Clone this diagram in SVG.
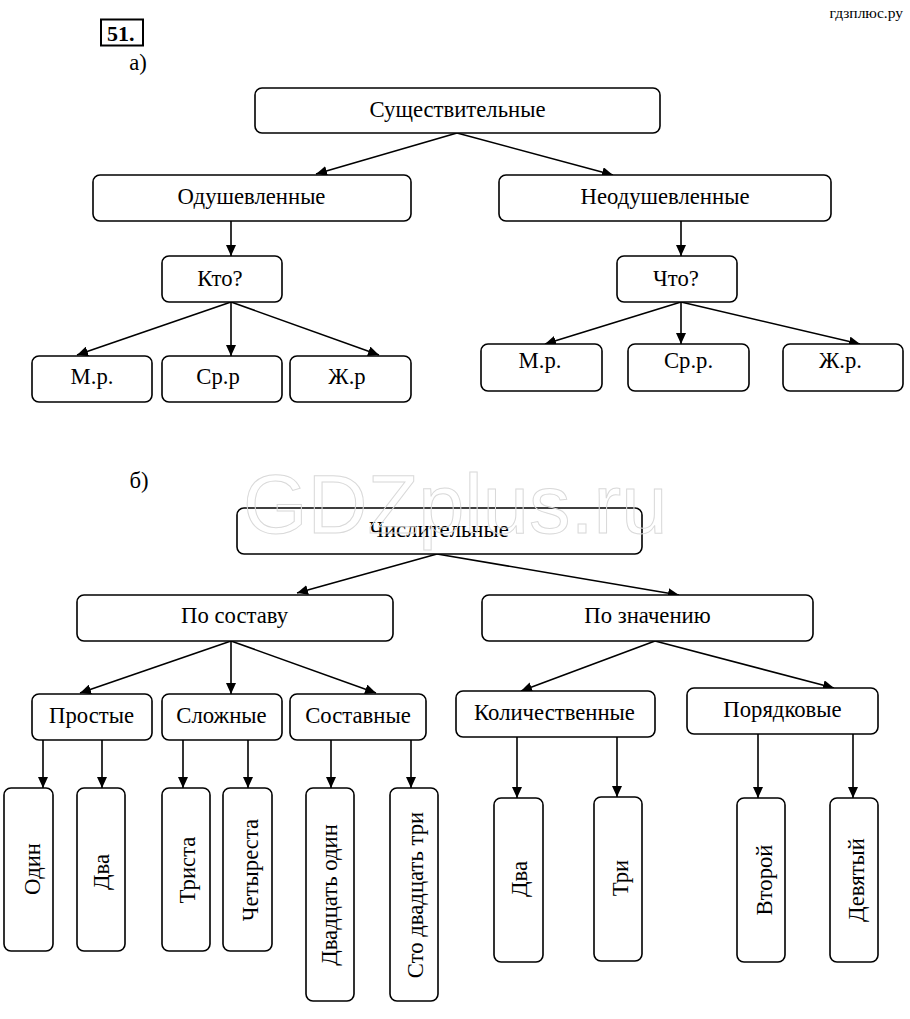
<svg xmlns="http://www.w3.org/2000/svg" width="910" height="1019" viewBox="0 0 910 1019" font-family="Liberation Serif, Times New Roman, DejaVu Serif, serif">
<defs>
<marker id="ah" markerUnits="userSpaceOnUse" markerWidth="12" markerHeight="10" refX="11" refY="5" orient="auto">
<path d="M0,0 L11,5 L0,10 z" fill="#000"/>
</marker>
<style>
.n rect{fill:#fff;stroke:#000;stroke-width:1.6}
.n text{font-size:22.7px;fill:#000;text-anchor:middle}
.t{font-size:22.7px;fill:#000;text-anchor:middle}
.c line{stroke:#000;stroke-width:1.6;marker-end:url(#ah)}
</style>
</defs>
<rect width="910" height="1019" fill="#fff"/>
<text x="903" y="18" font-size="15.5" text-anchor="end">гдзплюс.ру</text>
<g id="num">
<rect x="101" y="19.5" width="42" height="26" fill="none" stroke="#000" stroke-width="2"/>
<text x="107" y="40.5" font-size="22" font-weight="bold">51.</text>
</g>
<text class="t" x="138" y="70">а)</text>
<text class="t" x="139" y="488">б)</text>

<g class="c" id="connectors">
<line x1="457" y1="133" x2="316" y2="174"/>
<line x1="457" y1="133" x2="613" y2="175"/>
<line x1="231" y1="221" x2="231" y2="256"/>
<line x1="231" y1="302" x2="77" y2="355"/>
<line x1="231" y1="302" x2="231" y2="356"/>
<line x1="231" y1="302" x2="379" y2="355"/>
<line x1="681" y1="221" x2="681" y2="256"/>
<line x1="681" y1="302" x2="545" y2="344"/>
<line x1="681" y1="302" x2="681" y2="344"/>
<line x1="681" y1="302" x2="860" y2="344"/>

<line x1="437" y1="554" x2="297" y2="593"/>
<line x1="437" y1="554" x2="679" y2="595"/>
<line x1="231" y1="641" x2="80" y2="693"/>
<line x1="231" y1="641" x2="231" y2="694"/>
<line x1="231" y1="641" x2="376" y2="693"/>
<line x1="655" y1="641" x2="521" y2="691"/>
<line x1="655" y1="641" x2="834" y2="688"/>

<line x1="43" y1="740" x2="43" y2="788"/>
<line x1="102" y1="740" x2="102" y2="788"/>
<line x1="183" y1="740" x2="183" y2="788"/>
<line x1="248" y1="740" x2="248" y2="788"/>
<line x1="331" y1="740" x2="331" y2="788"/>
<line x1="411" y1="740" x2="411" y2="788"/>
<line x1="517" y1="737" x2="517" y2="798"/>
<line x1="617" y1="737" x2="617" y2="797"/>
<line x1="758" y1="734" x2="758" y2="798"/>
<line x1="853" y1="734" x2="853" y2="798"/>
</g>

<g class="n" id="n-sush"><rect x="255" y="88" width="405" height="45" rx="7"/><text x="457.5" y="117">Существительные</text></g>
<g class="n" id="n-odush"><rect x="93" y="175" width="318" height="46" rx="7"/><text x="251.5" y="204">Одушевленные</text></g>
<g class="n" id="n-neodush"><rect x="499" y="175" width="332" height="46" rx="7"/><text x="665" y="204">Неодушевленные</text></g>
<g class="n" id="n-kto"><rect x="162" y="256" width="120" height="46" rx="7"/><text x="220" y="286">Кто?</text></g>
<g class="n" id="n-chto"><rect x="617" y="256" width="120" height="46" rx="7"/><text x="676" y="286">Что?</text></g>
<g class="n" id="n-mr1"><rect x="32" y="356" width="120" height="46" rx="7"/><text x="92" y="384">М.р.</text></g>
<g class="n" id="n-srr1"><rect x="162" y="356" width="120" height="46" rx="7"/><text x="218" y="384">Ср.р</text></g>
<g class="n" id="n-zhr1"><rect x="290" y="356" width="121" height="46" rx="7"/><text x="347" y="384">Ж.р</text></g>
<g class="n" id="n-mr2"><rect x="481" y="344" width="121" height="47" rx="7"/><text x="540" y="368">М.р.</text></g>
<g class="n" id="n-srr2"><rect x="628" y="344" width="121" height="47" rx="7"/><text x="688.5" y="368">Ср.р.</text></g>
<g class="n" id="n-zhr2"><rect x="783" y="344" width="120" height="47" rx="7"/><text x="840.5" y="368">Ж.р.</text></g>

<g class="n" id="n-chisl"><rect x="237" y="508" width="405" height="46" rx="7"/><text x="439" y="537">Числительные</text></g>
<g class="n" id="n-posostavu"><rect x="77" y="595" width="316" height="46" rx="7"/><text x="234.5" y="623">По составу</text></g>
<g class="n" id="n-poznach"><rect x="482" y="595" width="331" height="46" rx="7"/><text x="647.5" y="623">По значению</text></g>
<g class="n" id="n-prost"><rect x="32" y="694" width="120" height="46" rx="7"/><text x="91.5" y="723">Простые</text></g>
<g class="n" id="n-slozh"><rect x="162" y="694" width="120" height="46" rx="7"/><text x="221.5" y="723">Сложные</text></g>
<g class="n" id="n-sostav"><rect x="290" y="694" width="136" height="46" rx="7"/><text x="358" y="723">Составные</text></g>
<g class="n" id="n-kolich"><rect x="456" y="691" width="199" height="46" rx="7"/><text x="554.5" y="720">Количественные</text></g>
<g class="n" id="n-poryad"><rect x="687" y="688" width="191" height="46" rx="7"/><text x="782.5" y="717">Порядковые</text></g>

<g class="n" id="n-odin"><rect x="4" y="788" width="49" height="163" rx="7"/><text transform="translate(39.5,869) rotate(-90)">Один</text></g>
<g class="n" id="n-dva1"><rect x="77" y="788" width="48" height="163" rx="7"/><text transform="translate(109,872) rotate(-90)">Два</text></g>
<g class="n" id="n-trista"><rect x="162" y="788" width="48" height="163" rx="7"/><text transform="translate(195,870) rotate(-90)">Триста</text></g>
<g class="n" id="n-chetyr"><rect x="223" y="788" width="49" height="163" rx="7"/><text transform="translate(257.5,870) rotate(-90)">Четыреста</text></g>
<g class="n" id="n-dvadodin"><rect x="306" y="788" width="48" height="213" rx="7"/><text transform="translate(337,895) rotate(-90)">Двадцать один</text></g>
<g class="n" id="n-sto"><rect x="390" y="788" width="48" height="213" rx="7"/><text transform="translate(423,895) rotate(-90)">Сто двадцать три</text></g>
<g class="n" id="n-dva2"><rect x="494" y="798" width="49" height="164" rx="7"/><text transform="translate(527,879) rotate(-90)">Два</text></g>
<g class="n" id="n-tri"><rect x="594" y="797" width="48" height="164" rx="7"/><text transform="translate(628,878) rotate(-90)">Три</text></g>
<g class="n" id="n-vtoroy"><rect x="737" y="798" width="48" height="164" rx="7"/><text transform="translate(772,880) rotate(-90)">Второй</text></g>
<g class="n" id="n-devyat"><rect x="830" y="798" width="48" height="164" rx="7"/><text transform="translate(864,880) rotate(-90)">Девятый</text></g>

<text x="243" y="533" font-family="Liberation Sans, Arial, sans-serif" font-size="83" fill="none" stroke="#d9d9d9" stroke-width="1">GDZplus.ru</text>
</svg>
